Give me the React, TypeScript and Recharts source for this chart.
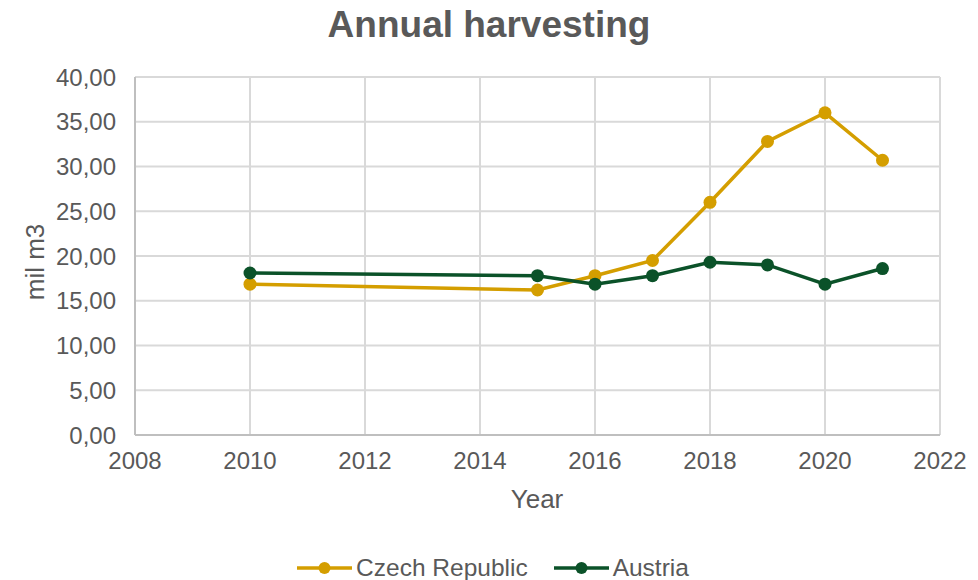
import React from 'react';
import { LineChart, Line, XAxis, YAxis, CartesianGrid, Legend, Label } from 'recharts';

const years = [2010, 2015, 2016, 2017, 2018, 2019, 2020, 2021];
const czech = [16.85, 16.2, 17.8, 19.5, 26.0, 32.8, 36.0, 30.7];
const austria = [18.1, 17.8, 16.85, 17.8, 19.3, 19.0, 16.85, 18.6];
const xTicks = [2008, 2010, 2012, 2014, 2016, 2018, 2020, 2022];
const yTicks = [0, 5, 10, 15, 20, 25, 30, 35, 40];

const data = years.map((year, i) => ({ year, czech: czech[i], austria: austria[i] }));

const FONT = '"Liberation Sans", Arial, sans-serif';
const TEXT = '#595959';

const series = [
  { key: 'czech', name: 'Czech Republic', color: '#D49E00' },
  { key: 'austria', name: 'Austria', color: '#0B5229' },
];

function LegendContent() {
  return (
    <div style={{ display: 'flex', justifyContent: 'center', alignItems: 'center', height: 26, fontFamily: FONT, fontSize: 24.5, color: TEXT }}>
      {series.map((s) => (
        <div key={s.key} style={{ display: 'flex', alignItems: 'center', margin: '0 13px' }}>
          <svg width={55} height={14} style={{ marginRight: 4 }}>
            <line x1={0} y1={7} x2={55} y2={7} stroke={s.color} strokeWidth={3.5} />
            <circle cx={27.5} cy={7} r={6} fill={s.color} />
          </svg>
          <span>{s.name}</span>
        </div>
      ))}
    </div>
  );
}

export default function App() {
  return (
    <div style={{ position: 'relative', width: 970, height: 572, fontFamily: FONT }}>
      <div style={{ position: 'absolute', top: -3, left: 0, width: 962, textAlign: 'center', fontSize: 37, fontWeight: 'bold', color: TEXT, lineHeight: '40px' }}>
        Annual harvesting
      </div>
      <LineChart width={970} height={572} data={data} margin={{ top: 69, right: 38, left: 0, bottom: 44 }}>
        <CartesianGrid stroke="#D9D9D9" strokeWidth={2} />
        <XAxis
          dataKey="year"
          type="number"
          domain={[2008, 2022]}
          ticks={xTicks}
          height={75}
          tickSize={0}
          tickMargin={17}
          axisLine={{ stroke: '#BFBFBF', strokeWidth: 2 }}
          tick={{ fill: TEXT, fontSize: 24, fontFamily: FONT }}
        >
          <Label
            content={() => (
              <text x={529} y={491} textAnchor="middle" dominantBaseline="central" fill={TEXT} fontSize={26} fontFamily={FONT}>
                Year
              </text>
            )}
          />
        </XAxis>
        <YAxis
          type="number"
          domain={[0, 40]}
          ticks={yTicks}
          width={127}
          tickSize={0}
          tickMargin={19}
          axisLine={{ stroke: '#BFBFBF', strokeWidth: 2 }}
          tickFormatter={(v: number) => v.toFixed(2).replace('.', ',')}
          tick={{ fill: TEXT, fontSize: 24, fontFamily: FONT }}
        >
          <Label
            content={() => (
              <text x={27} y={254} transform="rotate(-90, 27, 254)" textAnchor="middle" dominantBaseline="central" fill={TEXT} fontSize={26} fontFamily={FONT}>
                mil m3
              </text>
            )}
          />
        </YAxis>
        <Legend
          verticalAlign="bottom"
          content={<LegendContent />}
          wrapperStyle={{ top: 547, bottom: 'auto', height: 26, left: 0, width: 970 }}
        />
        {series.map((s) => (
          <Line
            key={s.key}
            dataKey={s.key}
            name={s.name}
            stroke={s.color}
            strokeWidth={3.5}
            dot={{ r: 6.5, fill: s.color, stroke: s.color, strokeWidth: 0 }}
            activeDot={false}
            isAnimationActive={false}
          />
        ))}
      </LineChart>
    </div>
  );
}
